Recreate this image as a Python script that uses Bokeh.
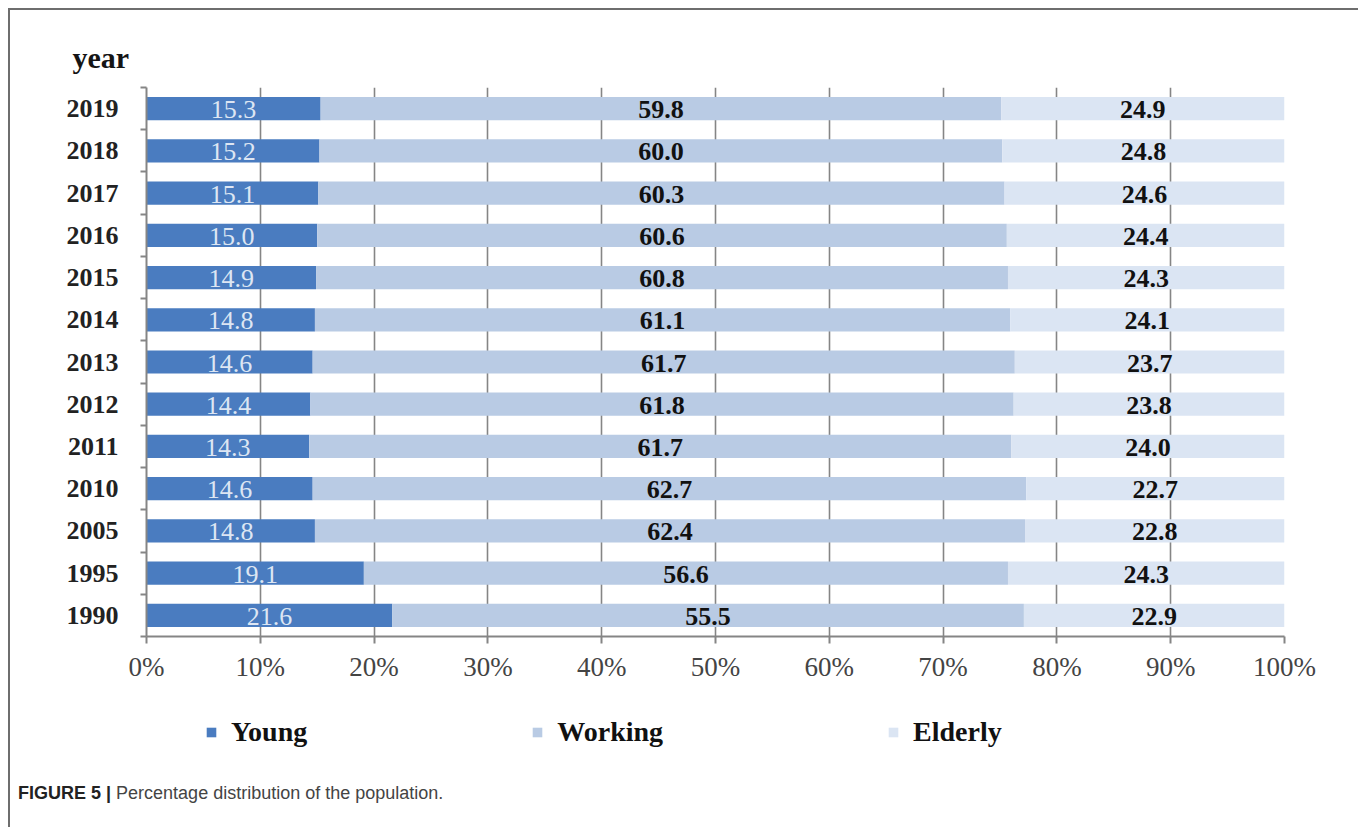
from bokeh.plotting import figure
from bokeh.layouts import column
from bokeh.models import (ColumnDataSource, FixedTicker, LabelSet, Legend,
                          LegendItem, Div)
from bokeh.core.properties import value
from bokeh.embed import file_html
from bokeh.resources import INLINE

# ---- data (bottom to top) ----
years = ["1990", "1995", "2005", "2010", "2011", "2012", "2013", "2014",
         "2015", "2016", "2017", "2018", "2019"]
young = [21.6, 19.1, 14.8, 14.6, 14.3, 14.4, 14.6, 14.8, 14.9, 15.0, 15.1, 15.2, 15.3]
working = [55.5, 56.6, 62.4, 62.7, 61.7, 61.8, 61.7, 61.1, 60.8, 60.6, 60.3, 60.0, 59.8]
elderly = [22.9, 24.3, 22.8, 22.7, 24.0, 23.8, 23.7, 24.1, 24.3, 24.4, 24.6, 24.8, 24.9]
x_ticks = [0, 10, 20, 30, 40, 50, 60, 70, 80, 90, 100]
x_tick_labels = [f"{t}%" for t in x_ticks]

series_names = ["Young", "Working", "Elderly"]
colors = ["#4a7cc0", "#b9cbe4", "#dbe5f3"]
label_colors = ["#dde6f3", "#111111", "#111111"]

n = len(years)
ypos = [i + 0.5 for i in range(n)]
y_end = [y + w for y, w in zip(young, working)]
tot = [a + b for a, b in zip(y_end, elderly)]

src = ColumnDataSource(dict(
    y=ypos, year=years,
    y0=[0] * n, y1=young, w1=y_end, e1=tot,
    young_lab=[f"{v:.1f}" for v in young],
    working_lab=[f"{v:.1f}" for v in working],
    elderly_lab=[f"{v:.1f}" for v in elderly],
    young_mid=[v / 2 for v in young],
    working_mid=[a + b / 2 for a, b in zip(young, working)],
    elderly_mid=[a + b / 2 for a, b in zip(y_end, elderly)],
))

SERIF = "Liberation Serif"

p = figure(width=1343, height=680, x_range=(0, 100), y_range=(0, n),
           output_backend="svg", toolbar_location=None,
           min_border_left=136, min_border_right=69,
           min_border_top=77, min_border_bottom=54)
p.outline_line_color = None
p.background_fill_color = "white"
p.border_fill_color = "white"

# "year" label as the title
p.title.text = "year"
p.title.align = "left"
p.title.offset = -74
p.title.text_font = SERIF
p.title.text_font_size = "30px"
p.title.text_font_style = "bold"
p.title.text_color = "#151515"
p.title.standoff = 27

# gridlines
p.ygrid.grid_line_color = None
p.xgrid.grid_line_color = "#858585"
p.xgrid.grid_line_width = 1.6
p.xgrid.ticker = FixedTicker(ticks=x_ticks[1:])

bh = 0.55
r_young = p.hbar(y="y", left="y0", right="y1", height=bh, source=src,
                 fill_color=colors[0], line_color=None)
r_work = p.hbar(y="y", left="y1", right="w1", height=bh, source=src,
                fill_color=colors[1], line_color=None)
r_eld = p.hbar(y="y", left="w1", right="e1", height=bh, source=src,
               fill_color=colors[2], line_color=None)

for mid, lab, col, style in [("young_mid", "young_lab", label_colors[0], "normal"),
                             ("working_mid", "working_lab", label_colors[1], "bold"),
                             ("elderly_mid", "elderly_lab", label_colors[2], "bold")]:
    ls = LabelSet(x=mid, y="y", text=lab, source=src, text_align="center",
                  text_baseline="middle", text_font=value(SERIF),
                  text_font_size="26px", text_color=col,
                  text_font_style=style, y_offset=-1)
    p.add_layout(ls)

# x axis
xa = p.xaxis[0]
xa.ticker = FixedTicker(ticks=x_ticks)
xa.major_label_overrides = {t: l for t, l in zip(x_ticks, x_tick_labels)}
xa.major_label_text_font = SERIF
xa.major_label_text_font_size = "27px"
xa.major_label_text_color = "#444444"
xa.major_label_standoff = 8
xa.axis_line_color = "#858585"
xa.axis_line_width = 2
xa.major_tick_line_color = "#858585"
xa.major_tick_line_width = 2
xa.major_tick_out = 7
xa.major_tick_in = 0
xa.minor_tick_line_color = None

# y axis
ya = p.yaxis[0]
ya.ticker = FixedTicker(ticks=ypos, minor_ticks=list(range(n + 1)))
ya.major_label_overrides = {y: yr for y, yr in zip(ypos, years)}
ya.major_label_text_font = SERIF
ya.major_label_text_font_size = "26px"
ya.major_label_text_font_style = "bold"
ya.major_label_text_color = "#222222"
ya.major_label_standoff = 22
ya.axis_line_color = "#858585"
ya.axis_line_width = 2
ya.major_tick_line_color = None
ya.minor_tick_line_color = "#858585"
ya.minor_tick_line_width = 2
ya.minor_tick_out = 6
ya.minor_tick_in = 0

# legend strip (its own small figure below the chart); the proxy bars lie
# outside its visible range so only their legend swatches show
lg = figure(width=1343, height=84, x_range=(0, 1), y_range=(0, 1),
            output_backend="svg", toolbar_location=None,
            min_border=0, min_border_left=0, min_border_right=0,
            min_border_top=0, min_border_bottom=0)
lg.axis.visible = False
lg.grid.visible = False
lg.outline_line_color = None
lg.border_fill_color = "white"
lg.background_fill_color = "white"
lg_r = [lg.hbar(y=[-5], left=[0], right=[1], height=0.5, fill_color=c, line_color=None)
        for c in colors]
legend = Legend(items=[LegendItem(label=nm, renderers=[r])
                       for nm, r in zip(series_names, lg_r)],
                orientation="horizontal", location=(59, 26),
                label_text_font=SERIF, label_text_font_size="28px",
                label_text_font_style="bold",
                label_text_color="#111111", glyph_width=12, glyph_height=12,
                spacing=224, label_standoff=14, border_line_color=None,
                background_fill_alpha=0, padding=10, margin=0)
lg.add_layout(legend, "center")

caption = Div(
    text='<div style="padding:2px 0 0 3px;font-family:\'Liberation Sans\',Arial,sans-serif;'
         'font-size:18px;white-space:nowrap">'
         '<span style="font-weight:bold;color:#222222">FIGURE 5 |</span> '
         '<span style="color:#444444">Percentage distribution of the population.</span></div>',
    width=1343, height=53)

layout = column(p, lg, caption, spacing=0,
                styles={"margin-left": "8px", "margin-top": "8px",
                        "border-left": "2px solid #6e6e6e",
                        "border-top": "2px solid #6e6e6e",
                        "border-right": "2px solid #6e6e6e"})

open("out.html", "w").write(file_html(layout, INLINE))
